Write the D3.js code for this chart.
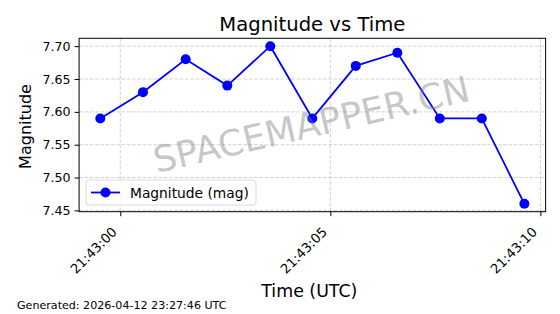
<!DOCTYPE html>
<html>
<head>
<meta charset="utf-8">
<script src="https://cdn.jsdelivr.net/npm/d3@7"></script>
<style>
  body { margin: 0; background: #fff; }
  svg { font-family: "DejaVu Sans", sans-serif; }
</style>
</head>
<body>
<div id="chart"></div>
<script>
// data
const times = ['21:42:59.524', '21:43:00.540', '21:43:01.557', '21:43:02.548', '21:43:03.571',
  '21:43:04.571', '21:43:05.605', '21:43:06.595', '21:43:07.605', '21:43:08.605', '21:43:09.619'];
const magnitudes = [7.59, 7.63, 7.68, 7.64, 7.70, 7.59, 7.67, 7.69, 7.59, 7.59, 7.46];
const yTicks = [7.45, 7.50, 7.55, 7.60, 7.65, 7.70];
const xTickLabels = ['21:43:00', '21:43:05', '21:43:10'];
const seriesName = 'Magnitude (mag)';

const W = 560, H = 314;
const margin = { top: 38.3, right: 14.4, bottom: 102.3, left: 79.1 };
const width = W - margin.left - margin.right;
const height = H - margin.top - margin.bottom;

const parse = d3.utcParse('%H:%M:%S.%L');
const parseTick = d3.utcParse('%H:%M:%S');
const data = times.map((t, i) => ({ t: parse(t), v: magnitudes[i] }));

const svg = d3.select('#chart').append('svg')
  .attr('width', W).attr('height', H);

const g = svg.append('g')
  .attr('transform', `translate(${margin.left}, ${margin.top})`);

// matplotlib style 5% margins
const tExt = d3.extent(data, d => +d.t);
const tPad = (tExt[1] - tExt[0]) * 0.05;
const vExt = d3.extent(magnitudes);
const vPad = (vExt[1] - vExt[0]) * 0.05;

const x = d3.scaleUtc()
  .domain([new Date(tExt[0] - tPad), new Date(tExt[1] + tPad)])
  .range([0, width]);
const y = d3.scaleLinear()
  .domain([vExt[0] - vPad, vExt[1] + vPad])
  .range([height, 0]);

const xTicks = xTickLabels.map(s => parseTick(s));

// grid
g.append('g').selectAll('line').data(yTicks).join('line')
  .attr('x1', 0).attr('x2', width)
  .attr('y1', d => y(d)).attr('y2', d => y(d))
  .attr('stroke', '#b0b0b0').attr('stroke-opacity', 0.7)
  .attr('stroke-dasharray', '3.7,1.6').attr('stroke-width', 0.8);
g.append('g').selectAll('line').data(xTicks).join('line')
  .attr('y1', 0).attr('y2', height)
  .attr('x1', d => x(d)).attr('x2', d => x(d))
  .attr('stroke', '#b0b0b0').attr('stroke-opacity', 0.7)
  .attr('stroke-dasharray', '3.7,1.6').attr('stroke-width', 0.8);

// watermark
svg.append('text')
  .attr('transform', `translate(312, 127) rotate(-13)`)
  .attr('text-anchor', 'middle')
  .attr('dominant-baseline', 'middle')
  .attr('font-size', 36)
  .attr('fill', '#808080')
  .attr('fill-opacity', 0.45)
  .text('SPACEMAPPER.CN');

// line + markers
const line = d3.line().x(d => x(d.t)).y(d => y(d.v));
g.append('path').datum(data)
  .attr('d', line)
  .attr('fill', 'none')
  .attr('stroke', '#0000ff')
  .attr('stroke-width', 1.8);
g.append('g').selectAll('circle').data(data).join('circle')
  .attr('cx', d => x(d.t)).attr('cy', d => y(d.v))
  .attr('r', 5).attr('fill', '#0000ff');

// axes
const yAxis = g.append('g')
  .call(d3.axisLeft(y).tickValues(yTicks).tickFormat(d3.format('.2f')).tickSize(4.5).tickPadding(4));
const xAxis = g.append('g')
  .attr('transform', `translate(0, ${height})`)
  .call(d3.axisBottom(x).tickValues(xTicks).tickFormat(d3.utcFormat('%H:%M:%S')).tickSize(4.5));

[xAxis, yAxis].forEach(a => {
  a.select('.domain').remove();
  a.selectAll('line').attr('stroke', '#000').attr('stroke-width', 1);
  a.selectAll('text').attr('fill', '#000').attr('font-size', 12.6)
    .attr('font-family', '"DejaVu Sans", sans-serif');
});
xAxis.selectAll('text')
  .attr('font-size', 13.2)
  .attr('text-anchor', 'end')
  .attr('dy', 0)
  .attr('y', 0)
  .attr('transform', 'translate(-3, 21) rotate(-45)');

// frame
g.append('rect')
  .attr('width', width).attr('height', height)
  .attr('fill', 'none').attr('stroke', '#000').attr('stroke-width', 1);

// legend
const lg = g.append('g').attr('transform', `translate(${86 - margin.left}, ${180 - margin.top})`);
lg.append('rect')
  .attr('width', 170).attr('height', 25).attr('rx', 3)
  .attr('fill', '#fff').attr('fill-opacity', 0.8)
  .attr('stroke', '#d9d9d9');
lg.append('line').attr('x1', 5).attr('x2', 34).attr('y1', 12.5).attr('y2', 12.5)
  .attr('stroke', '#0000ff').attr('stroke-width', 1.8);
lg.append('circle').attr('cx', 19.5).attr('cy', 12.5).attr('r', 5).attr('fill', '#0000ff');
lg.append('text').attr('x', 44).attr('y', 12.5).attr('dominant-baseline', 'central')
  .attr('font-size', 13.8).text(seriesName);

// titles
svg.append('text').attr('x', margin.left + width / 2).attr('y', 31)
  .attr('text-anchor', 'middle').attr('font-size', 19.6).text('Magnitude vs Time');
svg.append('text').attr('transform', `translate(30.5, ${margin.top + height / 2 + 1.5}) rotate(-90)`)
  .attr('text-anchor', 'middle').attr('font-size', 16).text('Magnitude');
svg.append('text').attr('x', margin.left + width / 2 - 3).attr('y', 296.5)
  .attr('text-anchor', 'middle').attr('font-size', 17.4).text('Time (UTC)');
svg.append('text').attr('x', 17).attr('y', 309)
  .attr('font-size', 11.1).text('Generated: 2026-04-12 23:27:46 UTC');
</script>
</body>
</html>
